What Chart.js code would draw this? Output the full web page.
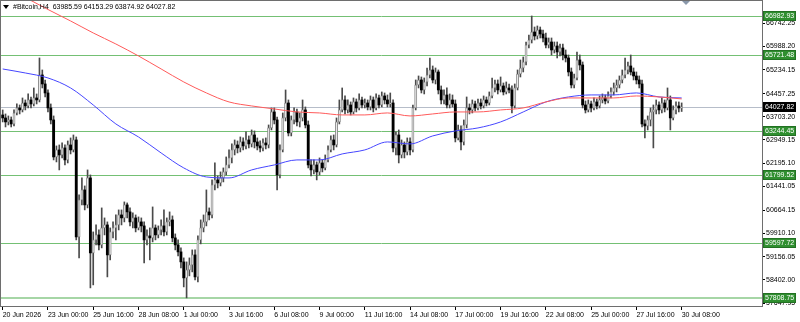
<!DOCTYPE html>
<html>
<head>
<meta charset="utf-8">
<script src="https://cdn.jsdelivr.net/npm/chart.js@4.4.1/dist/chart.umd.min.js"></script>
<style>
  html, body { margin: 0; padding: 0; background: #fff; }
  canvas { display: block; }
</style>
</head>
<body>
<canvas id="chart" width="800" height="322"></canvas>
<script>
// H4 candles, 20 Jun 08:00 -> 30 Jul 08:00 (241 bars)
const opens = [
  63762,63665,63535,63600,63470,63827,63990,63925,64152,64055,
  64250,64120,64315,64250,65062,64770,64477,63990,63600,62397,
  62625,62462,62690,62300,62787,62625,62950,59797,61000,61325,
  60837,61715,59277,59700,59862,59537,60090,60187,59212,59960,
  60090,60187,60512,60415,60837,60610,60285,60415,60090,60285,
  60155,59700,59830,59765,60090,59862,60025,60155,59960,60285,
  60350,59765,59537,59310,58985,58465,58725,58887,59212,58497,
  59700,60090,60285,60610,60512,61487,61650,61552,61715,61910,
  62137,62365,62625,62787,62690,62885,62755,62950,62820,63112,
  62885,62755,62690,62852,62787,63340,63860,63600,61812,62625,
  63665,64152,63177,63600,63860,63535,63665,63925,63437,62137,
  61975,62137,61910,62202,62040,62300,62625,62950,62787,63535,
  63925,64250,63925,64087,63860,64185,63990,64250,64087,64152,
  64022,64250,63990,64315,64087,64380,64250,64120,64152,62690,
  63112,62462,62787,62560,62885,62625,63990,64737,64900,64575,
  64835,65062,65225,64900,65160,64575,64250,64412,64087,64250,
  64120,63015,63275,62885,63437,63990,63925,64120,63990,64152,
  64055,64250,64152,64380,64640,64770,64575,64705,64510,64640,
  64575,64055,64640,65095,65290,65485,66037,66200,66460,66330,
  66525,66395,66265,66037,66135,65875,66005,65810,65940,65712,
  65615,65160,64737,64965,65550,65387,64087,63925,64120,63990,
  64185,64055,64250,64315,64217,64380,64510,64640,64737,64900,
  65062,65225,65355,65160,65030,64900,64770,63470,63405,63600,
  63860,63925,64087,63925,64152,63990,64250,63665,63925,64055,
  63985.59
];
const highs = [
  63925,63795,63730,63697,63925,64120,64087,64315,64250,64445,
  64347,64640,64445,65615,65225,64900,64575,64120,63730,62755,
  62787,62852,62787,62917,63015,63112,63047,61162,61715,61455,
  61975,61812,59960,60187,60025,60740,60415,60285,60090,60285,
  60512,60675,60675,60935,60902,60740,60577,60512,60447,60415,
  60285,60025,60090,60772,60187,60155,60350,60675,60415,60610,
  60480,59895,59700,59440,59115,58985,59115,59375,59375,59830,
  60350,60512,61325,60740,61650,62202,61780,61910,62040,62397,
  62625,62820,62950,62917,63047,63015,63210,63080,63275,63242,
  63015,62917,62982,63015,63437,63990,63990,63697,62787,63827,
  64575,64250,63730,63990,63957,63827,64250,64022,63567,62300,
  62300,62235,62365,62300,62462,62755,63080,63112,63665,64250,
  64640,64380,64250,64185,64315,64282,64445,64347,64282,64250,
  64380,64347,64445,64412,64510,64477,64412,64477,64250,63210,
  63275,62950,62885,63015,63015,64087,64900,65030,64997,64965,
  65290,65615,65355,65290,65225,64705,64575,64640,64445,64412,
  64250,63437,63405,63600,64347,64120,64250,64217,64282,64282,
  64380,64347,64510,64965,64900,64900,64997,64802,64835,64770,
  64705,64770,65225,65550,65647,66135,66362,66980,66622,66655,
  66622,66525,66427,66265,66265,66135,66135,66070,66070,65875,
  65712,65290,65095,65810,65712,65485,64217,64250,64217,64315,
  64282,64380,64445,64412,64510,64640,64802,64900,65030,65225,
  65615,65485,65712,65290,65160,65030,64900,63600,63730,63990,
  64087,64250,64185,64315,64250,64640,64380,64055,64185,64185,
  64153.29
];
const lows = [
  63535,63372,63437,63372,63405,63762,63795,63860,63925,63990,
  63990,64055,64120,64185,64640,64347,63860,63470,62300,62235,
  61975,62365,62137,62202,62495,62560,59700,59115,60837,60675,
  60740,58140,58237,59537,59375,59440,59862,58497,59050,59765,
  59700,60025,60187,60285,60415,60155,60090,59960,60025,59960,
  58952,59537,59050,59635,59700,59765,59862,59830,59862,60155,
  59635,59375,59180,58790,58172,57815,58530,58660,58400,58335,
  59570,59960,60155,60350,60415,61325,61390,61455,61585,61812,
  62040,62202,62462,62527,62560,62625,62657,62690,62722,62690,
  62625,62560,62592,62657,62690,63275,63470,61325,61715,62560,
  63567,63080,63080,63470,63405,63372,63567,63340,62040,61780,
  61845,61650,61812,61910,61975,62235,62560,62625,62722,63470,
  63860,63795,63827,63762,63795,63860,63925,63990,63990,63925,
  63925,63860,63925,63990,64022,64120,64022,64022,62560,62462,
  62202,62365,62365,62462,62462,62560,63925,64640,64477,64445,
  64705,64965,64802,64770,64445,64120,64120,63990,63990,64022,
  62885,62950,62625,62787,63340,63795,63827,63892,63925,63957,
  63990,64055,64087,64315,64510,64445,64510,64412,64445,64477,
  63827,63990,64575,64997,65160,65387,65940,66102,66200,66232,
  66265,66135,65940,65940,65712,65777,65615,65680,65550,65485,
  65030,64640,64640,64900,65225,63990,63827,63860,63860,63925,
  63957,63990,64152,64120,64152,64315,64412,64510,64640,64802,
  64965,65095,65062,64900,64770,64640,63372,63015,63275,63405,
  62690,63795,63795,63827,63860,63925,63275,63600,63795,63860,
  63874.92
];
const closes = [
  63665,63535,63600,63470,63827,63990,63925,64152,64055,64250,
  64120,64315,64250,65062,64770,64477,63990,63600,62397,62625,
  62462,62690,62300,62787,62625,62950,59797,61000,61325,60837,
  61715,59277,59700,59862,59537,60090,60187,59212,59960,60090,
  60187,60512,60415,60837,60610,60285,60415,60090,60285,60155,
  59700,59830,59765,60090,59862,60025,60155,59960,60285,60350,
  59765,59537,59310,58985,58465,58725,58887,59212,58497,59700,
  60090,60285,60610,60512,61487,61650,61552,61715,61910,62137,
  62365,62625,62787,62690,62885,62755,62950,62820,63112,62885,
  62755,62690,62852,62787,63340,63860,63600,61812,62625,63665,
  64152,63177,63600,63860,63535,63665,63925,63437,62137,61975,
  62137,61910,62202,62040,62300,62625,62950,62787,63535,63925,
  64250,63925,64087,63860,64185,63990,64250,64087,64152,64022,
  64250,63990,64315,64087,64380,64250,64120,64152,62690,63112,
  62462,62787,62560,62885,62625,63990,64737,64900,64575,64835,
  65062,65225,64900,65160,64575,64250,64412,64087,64250,64120,
  63015,63275,62885,63437,63990,63925,64120,63990,64152,64055,
  64250,64152,64380,64640,64770,64575,64705,64510,64640,64575,
  64055,64640,65095,65290,65485,66037,66200,66460,66330,66525,
  66395,66265,66037,66135,65875,66005,65810,65940,65712,65615,
  65160,64737,64965,65550,65387,64087,63925,64120,63990,64185,
  64055,64250,64315,64217,64380,64510,64640,64737,64900,65062,
  65225,65355,65160,65030,64900,64770,63470,63405,63600,63860,
  63925,64087,63925,64152,63990,64250,63665,63925,64055,63990,
  64027.82
];

// moving averages, read every 8 bars
const maIdx = [0,8,16,24,32,40,48,56,64,72,80,88,96,104,112,120,128,136,144,152,160,168,176,184,192,200,208,216,224,232,240];
const maRed = [67955,67581,67191,66818,66428,66070,65680,65258,64835,64478,64185,64055,63958,63860,63828,63763,63763,63828,63730,63795,63860,63860,63925,63990,64185,64315,64315,64315,64380,64348,64283];
const maBlue = [65257,65127,64965,64640,64087,63470,63047,62527,62040,61747,61715,61975,62137,62300,62300,62495,62625,62885,62820,63080,63243,63340,63535,63860,64185,64348,64413,64413,64478,64348,64315];

const xTickIdx = [0,16,32,48,64,80,96,112,128,144,160,176,192,208,224,240];
const xTickLabels = ['20 Jun 2026','23 Jun 00:00','25 Jun 16:00','28 Jun 08:00','1 Jul 00:00','3 Jul 16:00','6 Jul 08:00','9 Jul 00:00','11 Jul 16:00','14 Jul 08:00','17 Jul 00:00','19 Jul 16:00','22 Jul 08:00','25 Jul 00:00','27 Jul 16:00','30 Jul 08:00'];
const priceTicks = [66742.25,65988.20,65234.15,64457.25,63703.20,62949.15,62195.10,61441.05,60664.15,59910.10,59156.05,58402.00,57647.95];

const levelLines = [66982.93,65721.48,63244.45,61799.52,59597.72,57808.75];
const lastPrice = 64027.82;
const header = '#Bitcoin,H4  63985.59 64153.29 63874.92 64027.82';

const FONT = "'Liberation Sans', Arial, sans-serif";

const wicks = highs.map((h, i) => ({ x: i, y: [lows[i], h] }));
const bodies = opens.map((o, i) => ({ x: i, y: [o, closes[i]] }));
const isBull = (i) => closes[i] >= opens[i];

const overlay = {
  id: 'overlay',
  beforeDatasetsDraw(chart) {
    const { ctx, chartArea: a, scales: { y } } = chart;
    ctx.save();
    let py = Math.round(y.getPixelForValue(lastPrice)) + 0.5;
    ctx.strokeStyle = '#b6bdc9';
    ctx.lineWidth = 1;
    ctx.beginPath(); ctx.moveTo(a.left, py); ctx.lineTo(a.right, py); ctx.stroke();
    levelLines.forEach((v, i) => {
      const last = i === levelLines.length - 1;
      py = Math.round(y.getPixelForValue(v)) + (last ? 0 : 0.5);
      ctx.strokeStyle = last ? '#a6d6a6' : '#74c074';
      ctx.lineWidth = last ? 2 : 1;
      ctx.beginPath(); ctx.moveTo(a.left, py); ctx.lineTo(a.right, py); ctx.stroke();
    });
    ctx.restore();
  },
  afterDraw(chart) {
    const { ctx, chartArea: a, scales: { y } } = chart;
    ctx.save();
    // frame
    ctx.strokeStyle = '#6e6e6e';
    ctx.lineWidth = 1;
    ctx.strokeRect(a.left - 0.5, a.top - 0.5, a.right - a.left + 1, a.bottom - a.top + 1);

    // price boxes on the axis
    ctx.font = "7px " + FONT;
    ctx.textBaseline = 'middle';
    const box = (v, bg, edge) => {
      const py = Math.round(y.getPixelForValue(v));
      ctx.fillStyle = bg;
      ctx.fillRect(a.right + 1, py - 5, 33, 10);
      ctx.strokeStyle = edge;
      ctx.strokeRect(a.right + 1.5, py - 4.5, 32, 9);
      ctx.fillStyle = '#fff';
      ctx.fillText(v.toFixed(2), a.right + 3, py + 0.5);
    };
    levelLines.forEach(v => box(v, '#2f8f2f', '#237023'));
    box(lastPrice, '#000', '#000');

    // header
    ctx.fillStyle = '#000';
    ctx.beginPath(); ctx.moveTo(3, 5); ctx.lineTo(9, 5); ctx.lineTo(6, 9); ctx.closePath(); ctx.fill();
    ctx.font = "7px " + FONT;
    ctx.fillText(header, 13, 7.5);

    // chart shift marker
    ctx.fillStyle = '#8a98aa';
    ctx.beginPath(); ctx.moveTo(682, 1); ctx.lineTo(690, 1); ctx.lineTo(686, 5); ctx.closePath(); ctx.fill();
    ctx.restore();
  }
};

new Chart(document.getElementById('chart'), {
  type: 'bar',
  data: {
    datasets: [
      {
        type: 'line', data: maIdx.map((k, i) => ({ x: k, y: maRed[i] })),
        borderColor: '#ff5a5a', borderWidth: 1, pointRadius: 0,
        cubicInterpolationMode: 'monotone', order: 1
      },
      {
        type: 'line', data: maIdx.map((k, i) => ({ x: k, y: maBlue[i] })),
        borderColor: '#4646ff', borderWidth: 1, pointRadius: 0,
        cubicInterpolationMode: 'monotone', order: 1
      },
      {
        data: bodies, grouped: false, minBarLength: 1,
        barThickness: (c) => isBull(c.dataIndex) ? 2.6 : 2.2,
        backgroundColor: (c) => isBull(c.dataIndex) ? '#ffffff' : '#000000',
        borderColor: '#8e8e8e', borderWidth: (c) => isBull(c.dataIndex) ? 1 : 0,
        borderSkipped: false, order: 2
      },
      {
        data: wicks, grouped: false, barThickness: 1,
        backgroundColor: '#4a4a4a', borderWidth: 0, order: 3
      }
    ]
  },
  options: {
    responsive: false,
    animation: false,
    devicePixelRatio: 1,
    layout: { padding: { left: 1, top: 1, right: 0, bottom: 0 } },
    plugins: { legend: { display: false }, tooltip: { enabled: false } },
    scales: {
      x: {
        type: 'linear', min: -0.6, max: 268.4, offset: false,
        afterFit: (s) => { s.height = 16; s.paddingLeft = 0; s.paddingRight = 0; },
        afterBuildTicks: (s) => { s.ticks = xTickIdx.map(v => ({ value: v })); },
        grid: { drawOnChartArea: false, tickLength: 4, color: '#000', offset: false },
        border: { display: false },
        ticks: {
          align: 'start', maxRotation: 0, autoSkip: false, padding: 1,
          color: '#000', font: { family: FONT, size: 7 },
          callback: (v, i) => xTickLabels[i]
        }
      },
      y: {
        position: 'right', min: 57551, max: 67467,
        afterFit: (s) => { s.width = 38; s.paddingTop = 0; s.paddingBottom = 0; },
        afterBuildTicks: (s) => { s.ticks = priceTicks.map(v => ({ value: v })); },
        grid: { drawOnChartArea: false, tickLength: 3, color: '#000' },
        border: { display: false },
        ticks: {
          padding: 1, autoSkip: false, color: '#000',
          font: { family: FONT, size: 7 },
          callback: (v) => Number(v).toFixed(2)
        }
      }
    }
  },
  plugins: [overlay]
});
</script>
</body>
</html>
